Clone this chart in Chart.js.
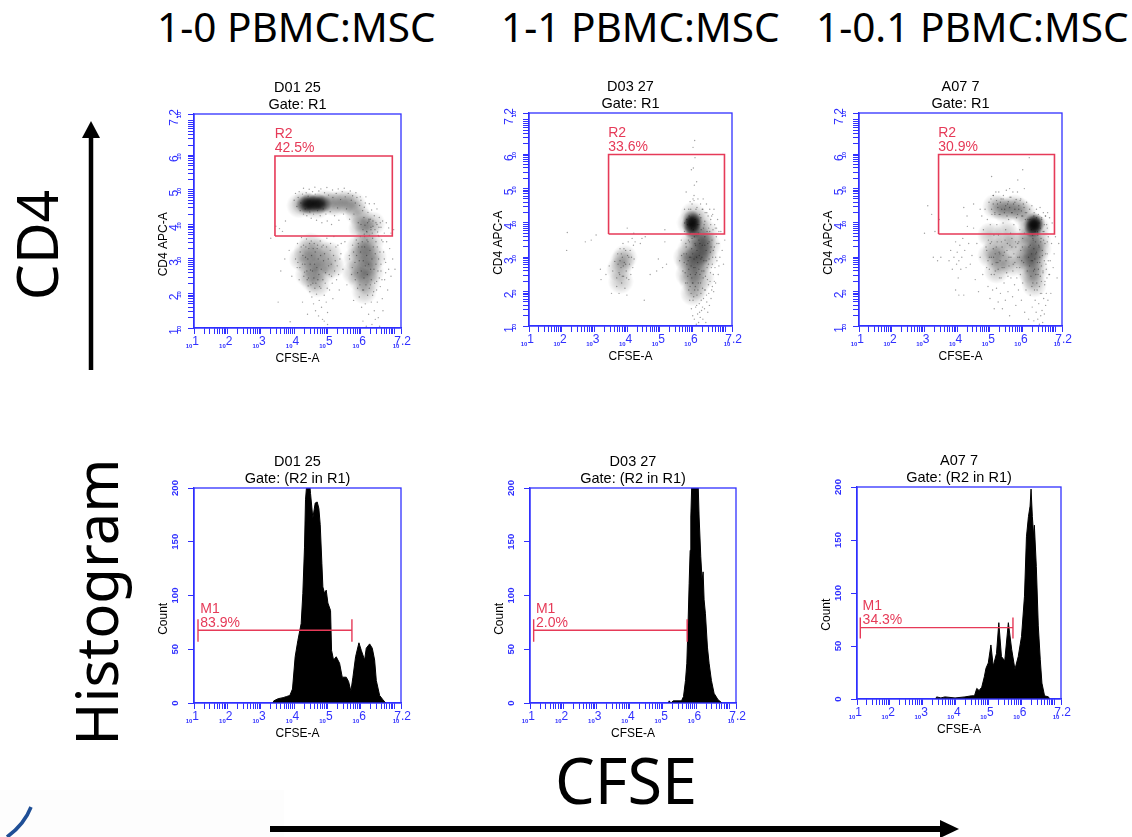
<!DOCTYPE html>
<html><head><meta charset="utf-8">
<script src="https://cdn.jsdelivr.net/npm/chart.js@4"></script>
<style>
html,body{margin:0;padding:0;background:#fff;width:1132px;height:837px;overflow:hidden}
canvas{position:absolute}
.big{position:absolute;font-family:"Noto Sans",sans-serif;color:#000;white-space:nowrap;line-height:1}
.rot{transform:translate(-50%,-50%) rotate(-90deg)}
svg{position:absolute;left:0;top:0}
</style></head><body>
<svg width="1132" height="837">
<rect x="0" y="790" width="284" height="47" fill="#fdfdfd"/>
<path d="M31 807 C26 820 18 829 7 837" stroke="#1f4f96" stroke-width="3.5" fill="none"/>
<line x1="91" y1="370" x2="91" y2="136" stroke="#000" stroke-width="4.5"/>
<polygon points="91,121 82,138 100,138" fill="#000"/>
<line x1="270" y1="829" x2="942" y2="829" stroke="#000" stroke-width="6"/>
<polygon points="959,829 940,820 940,838" fill="#000"/>
</svg>
<div class="big" style="left:157px;top:7px;font-size:40.5px">1-0 PBMC:MSC</div>
<div class="big" style="left:501px;top:7px;font-size:40.5px">1-1 PBMC:MSC</div>
<div class="big" style="left:816px;top:7px;font-size:40.5px">1-0.1 PBMC:MSC</div>
<div class="big" style="left:555px;top:748px;font-size:63px">CFSE</div>
<div class="big rot" style="left:36px;top:245px;font-size:57px">CD4</div>
<div class="big rot" style="left:96px;top:602px;font-size:58px">Histogram</div>
<script>
// ---- values ----
const titlesTop = [['D01 25','Gate: R1'],['D03 27','Gate: R1'],['A07 7','Gate: R1']];
const titlesBottom = [['D01 25','Gate: (R2 in R1)'],['D03 27','Gate: (R2 in R1)'],['A07 7','Gate: (R2 in R1)']];
const gateNames = ['R2','R2','R2'];
const gatePercents = ['42.5%','33.6%','30.9%'];
const markerNames = ['M1','M1','M1'];
const markerPercents = ['83.9%','2.0%','34.3%'];
const decadeLabels = [1,2,3,4,5,6,7.2];
const countTicks = [0,50,100,150,200];
// gates: log10 x from/to, log10 y from/to
const gate1 = [3.425,6.94,3.666,5.985];
const gate2 = [3.43,6.97,3.68,5.99];
const gate3 = [3.43,6.97,3.68,5.99];
// markers: log10 x from/to, count level, cap low/high
const marker1 = [1.12,5.73,67.7,57,78];
const marker2 = [1.11,5.73,67.7,57,78];
const marker3 = [1.10,5.74,67.3,57,77];
// histogram outlines: log10 CFSE, count
const hist1 = [3.36,0,3.39,2,3.52,4,3.67,5,3.77,6,3.87,7,3.95,13,4.03,43,4.11,58,4.21,74,4.26,102,4.31,145,4.34,189,4.38,205,4.46,205,4.49,195,4.56,172,4.63,186,4.69,187,4.74,181,4.78,166,4.83,130,4.86,108,4.91,102,4.96,105,5.01,93,5.09,86,5.12,49,5.18,40,5.26,43,5.36,37,5.44,24,5.56,24,5.63,20,5.70,11,5.76,24,5.84,43,5.94,56,6.01,49,6.11,40,6.16,51,6.26,55,6.34,51,6.41,40,6.46,21,6.56,7,6.66,3,6.74,0];
const hist2 = [5.16,0,5.19,2,5.24,0,5.31,2,5.56,2,5.62,6,5.68,21,5.72,37,5.76,77,5.79,111,5.82,142,5.84,173,5.87,205,6.06,205,6.09,173,6.14,136,6.18,114,6.21,122,6.24,96,6.28,83,6.34,52,6.39,37,6.46,21,6.54,9,6.66,3,6.78,0];
const hist3 = [3.39,0,3.42,2,3.55,1,3.67,2,3.98,1,4.28,2,4.48,3,4.57,3,4.64,10,4.71,8,4.79,11,4.87,21,4.92,29,4.99,34,5.07,51,5.14,31,5.24,43,5.31,72,5.39,40,5.49,36,5.6,72,5.70,47,5.80,28,5.90,40,6.0,59,6.09,97,6.15,153,6.21,172,6.26,182,6.29,198,6.33,172,6.37,153,6.39,164,6.45,125,6.51,69,6.57,37,6.62,15,6.70,3,6.82,2,6.85,0];
// scatter: log10 x * 100, log10 y * 100, as flat pairs. core = darkest, haze = mid density, dust = single events
const core1 = [432,458,445,466,445,454,458,460,470,466,472,454,486,460];
const haze1 = [415,455,430,462,445,455,470,452,490,465,510,462,525,460,545,465,560,462,578,458,422,300,435,320,445,285,450,340,460,300,465,265,475,325,480,290,490,265,455,240,505,315,470,225,515,280,440,255,585,300,595,335,600,275,606,315,612,345,615,260,622,310,625,285,630,345,598,240,620,232,640,305,610,205,580,260,632,262,600,390,618,388,635,402,605,412,588,435];
const dust1 = [400,470,408,452,412,478,418,440,420,462,425,488,428,430,433,445,436,492,438,425,442,482,447,436,451,418,455,495,458,430,463,488,467,412,470,440,474,497,478,425,483,405,487,445,491,492,495,430,499,410,503,485,508,437,512,400,516,478,521,425,526,490,530,448,534,412,539,472,544,495,548,430,553,480,557,445,562,490,566,415,571,470,575,483,579,430,583,462,588,478,592,405,596,455,600,470,605,440,609,420,613,462,617,380,621,435,625,460,628,415,632,442,636,395,640,425,645,405,650,378,655,420,660,392,665,410,670,375,676,405,683,390,690,375,698,385,374,410,365,380,356,388,345,395,330,360,410,345,418,320,422,362,425,285,428,340,431,262,434,305,437,358,439,240,442,222,444,330,447,205,449,268,451,352,453,190,456,230,458,170,460,345,462,215,464,150,467,198,469,330,471,240,473,135,475,180,478,352,480,215,482,160,485,125,487,340,490,195,493,230,496,175,498,360,500,145,503,280,506,210,509,345,512,250,516,185,519,365,523,295,527,240,531,340,535,210,540,315,546,270,552,350,558,225,565,310,572,255,578,180,575,340,582,290,586,355,590,215,593,335,595,190,598,365,602,160,604,350,606,120,608,210,611,365,613,170,616,105,618,355,620,195,623,140,625,368,628,225,631,175,633,110,635,360,638,205,640,150,643,125,645,350,647,235,649,175,652,130,654,365,656,105,658,220,660,265,662,355,664,185,666,150,668,320,671,240,674,290,677,350,680,210,683,270,686,330,690,250,695,300,702,270,393,250,385,325,372,300,360,265,352,175,409,275,415,240,490,120,500,110,388,118,425,175,440,140,
404,300,411,290,417,275,421,335,426,310,429,250,432,285,435,335,438,265,441,300,443,245,446,345,448,285,450,225,452,310,455,265,457,330,459,245,461,285,463,320,465,230,468,275,470,340,472,300,474,255,476,220,479,310,481,270,483,335,486,240,488,295,491,315,494,260,497,335,499,215,502,300,505,255,508,325,511,285,514,230,518,310,521,265,525,335,529,280,533,255,537,300,541,345,404,490,415,495,428,505,445,502,462,508,480,503,498,507,515,500,532,503,550,505,568,497,585,492,598,480,610,450,615,480,624,415,630,385,640,460,648,445,566,300,574,275,578,320,583,240,587,310,590,260,592,345,595,295,597,225,599,320,601,265,603,335,605,210,607,295,609,245,611,335,613,280,615,225,617,310,619,255,621,350,623,285,625,215,627,325,629,270,631,240,633,300,635,195,637,335,639,270,641,230,643,315,645,285,647,210,649,335,651,265,653,300,655,245,657,320,660,285,663,240,666,350,670,300,674,260,
600,400,606,385,612,398,618,378,624,410,630,392,636,410,642,385,648,400,654,392,610,372,620,405,634,375,652,368,658,405];
const core2 = [592,395,597,412,598,395,599,378,604,402];
const haze2 = [590,400,600,425,610,390,620,405,630,355,625,330,632,318,635,342,620,310,610,300,600,290,615,270,605,255,625,285,640,300,590,320,585,285,600,345,615,360,640,372,595,235,610,212,600,195,585,250,628,240,578,300,648,335,385,288,375,265,392,300,380,230];
const dust2 = [560,290,565,350,570,260,573,310,575,375,578,225,580,330,582,280,584,395,585,245,587,350,588,205,589,420,590,300,591,175,592,370,593,250,594,440,595,195,596,150,597,325,598,455,599,225,600,130,601,175,602,380,603,270,604,465,605,120,606,205,607,340,608,250,609,155,610,440,611,105,612,300,613,190,614,395,615,135,616,470,617,225,618,110,619,350,620,165,621,425,622,250,623,125,624,455,625,195,626,380,627,145,628,300,629,440,630,210,631,120,632,470,633,180,634,260,635,395,636,150,637,335,638,430,639,205,640,110,641,290,642,455,643,170,644,375,645,235,646,140,647,420,648,280,649,195,650,345,651,160,652,440,653,230,654,315,655,395,656,180,657,270,658,420,659,350,660,215,661,300,662,380,663,250,664,200,665,440,666,330,668,270,669,385,670,225,672,360,674,290,676,410,678,250,680,340,683,300,686,375,690,320,694,280,698,350,605,510,604,480,602,560,607,590,612,520,606,640,596,555,580,490,575,440,601,620,566,305,356,260,362,288,368,240,371,310,375,255,378,325,381,270,383,225,385,300,387,340,389,245,391,285,393,210,395,320,397,260,399,190,401,305,403,345,405,235,407,280,409,320,411,250,413,300,415,355,417,270,419,335,421,295,424,345,375,195,368,215,352,195,345,275,335,250,320,235,305,365,290,350,272,345,217,372,215,320,318,265,400,385,420,370,445,355,455,360,440,340,470,250,490,260,508,270,515,380,520,280,515,345,452,175,495,295,
574,285,577,255,579,340,581,310,583,225,586,290,588,265,590,345,592,215,594,300,595,275,597,240,598,355,600,310,601,225,603,185,604,295,605,360,607,270,608,215,609,335,611,255,612,160,613,320,615,285,616,205,617,370,619,265,620,305,621,140,622,340,624,225,625,295,626,175,628,260,629,335,630,155,632,240,633,385,634,290,636,205,637,360,639,245,641,320,642,190,644,270,646,340,648,220,650,295,652,375,654,255,656,330,658,205,660,280,663,320,666,230,670,300,674,340,680,275,575,400,582,410,588,440,592,462,596,385,601,470,607,410,613,445,619,395,625,415,631,440,637,405,643,430,649,385,655,410,661,425,667,395,673,385,680,375,
385,245,388,275,378,290,395,280,382,310,372,280,405,300,398,240,390,325,377,250];
const core3 = [628,395,634,405,638,390,631,382,642,400];
const haze3 = [622,395,645,385,630,340,635,318,625,305,640,300,630,280,620,260,640,265,630,240,615,350,648,350,620,372,650,325,635,220,612,300,515,448,530,445,545,436,560,442,575,447,590,438,605,425,500,305,515,322,525,295,540,285,545,330,520,260,580,340,600,300,570,280,550,370,500,365];
const dust3 = [480,380,485,440,488,330,490,270,492,410,494,215,495,350,497,460,498,300,500,180,501,395,503,470,504,250,505,345,506,425,508,205,510,480,511,300,512,365,513,150,515,425,516,260,518,490,519,330,520,210,521,395,523,455,524,285,525,170,526,365,527,490,529,240,530,310,531,425,532,195,534,470,535,345,537,270,538,150,540,400,541,480,543,225,544,315,545,440,547,175,548,380,550,495,551,255,553,340,554,455,555,200,557,410,558,300,560,130,561,475,563,370,564,240,566,430,567,330,569,185,570,490,571,280,573,395,575,220,576,460,578,345,579,160,581,415,582,270,584,490,585,340,587,205,588,440,590,300,591,380,593,250,594,470,596,175,597,420,599,330,600,225,602,455,603,285,605,370,606,140,608,430,610,205,612,460,614,260,616,410,618,120,619,330,621,440,623,190,624,100,626,290,628,450,629,155,631,225,632,350,634,115,635,430,636,265,638,175,639,90,640,310,641,140,642,440,644,205,645,375,646,120,647,250,648,425,649,165,650,330,651,105,652,285,653,445,654,195,655,130,656,355,657,230,658,415,659,145,660,305,661,110,662,260,663,430,664,180,665,375,666,135,667,220,668,340,669,420,670,160,671,280,672,195,673,395,674,240,675,310,676,430,677,175,678,360,680,250,682,415,684,290,686,195,688,340,690,400,693,270,696,310,700,360,705,240,710,340,375,290,380,320,385,265,390,300,395,345,398,280,400,315,403,240,405,290,408,335,411,265,414,300,417,355,420,190,423,320,427,270,431,390,435,340,440,280,445,305,450,385,455,235,460,340,465,200,470,300,475,420,478,250,350,300,345,410,340,290,332,375,327,300,322,425,310,450,300,370,395,205,405,190,420,445,430,420,450,455,470,440,505,535,510,480,560,500,585,525,605,500,620,590,600,555,
490,320,494,290,498,265,501,340,504,300,507,280,510,325,513,250,516,310,519,285,522,345,525,265,528,315,531,290,534,240,537,330,540,305,543,270,546,350,549,290,552,320,555,245,558,275,561,335,564,300,567,355,570,260,573,310,576,285,579,330,582,240,585,300,588,345,591,270,594,320,597,290,600,355,
505,440,510,455,515,430,520,465,524,445,528,425,532,460,536,440,540,470,544,430,548,450,552,420,556,462,560,445,564,475,568,430,572,455,576,440,580,468,584,425,588,450,592,465,596,435,600,420,604,445,608,410,612,430,
618,300,621,275,623,335,625,245,627,310,628,215,630,290,631,355,633,260,634,325,636,205,637,295,639,345,640,250,642,315,643,225,645,285,646,365,648,265,649,335,651,215,652,300,654,245,655,345,657,275,658,195,660,320,662,255,664,350,666,290,668,230,670,310,672,265,675,345,678,290,682,250,
622,410,626,380,630,365,634,420,638,375,642,415,646,370,650,400,654,385,658,410,662,375,666,395,670,420,675,385];
// ---- page geometry ----
const topBoxes = [[194,114,207,214],[529,113,203,213],[859,113,203,213]];
const bottomBoxes = [[194,488,207,215],[530,488,206,215],[857,487,204,212]];
const LEFT=45, RIGHT=25, TOP=34, BELOW=38;
const BLUE='#3030ff', RED='#e63a58', TINY='bold 6px "Liberation Sans"';

function pairs(flat,scale){const out=[];for(let i=0;i<flat.length;i+=2)out.push({x:Math.pow(10,flat[i]/scale),y:Math.pow(10,flat[i+1]/scale)});return out;}
function histPts(flat){const out=[];for(let i=0;i<flat.length;i+=2)out.push({x:Math.pow(10,flat[i]),y:flat[i+1]});return out;}
function sprite(size,alpha){const c=document.createElement('canvas');c.width=c.height=size;const g=c.getContext('2d');const r=size/2;
  const gr=g.createRadialGradient(r,r,0,r,r,r);gr.addColorStop(0,'rgba(0,0,0,'+alpha+')');gr.addColorStop(.55,'rgba(0,0,0,'+alpha*.55+')');gr.addColorStop(1,'rgba(0,0,0,0)');
  g.fillStyle=gr;g.fillRect(0,0,size,size);return c;}
const hazeSprite=sprite(26,.23), coreSprite=sprite(18,.58);
function logTicks(){const t=[];for(let d=1;d<7;d++)for(let k=1;k<10;k++)t.push({value:k*Math.pow(10,d)});t.push({value:1e7});t.push({value:Math.pow(10,7.2)});return t;}
function decadeOf(v){const e=Math.log10(v);const hit=decadeLabels.find(d=>Math.abs(d-e)<1e-6);return hit===undefined?'':String(hit);}

const framePlugin={id:'frame',afterDatasetsDraw(ch){const a=ch.chartArea,c=ch.ctx;c.save();c.strokeStyle=BLUE;c.lineWidth=1.3;c.strokeRect(a.left,a.top,a.width,a.height);c.restore();}};
const tensPlugin={id:'tens',afterDraw(ch,_,o){const c=ch.ctx;c.save();c.fillStyle=BLUE;c.font=TINY;c.textAlign='center';c.textBaseline='middle';
  ch.scales.x.ticks.forEach(t=>{if(decadeOf(t.value)){c.fillText('10',ch.scales.x.getPixelForValue(t.value)-5,ch.chartArea.bottom+18.5);}});
  if(o.logY)ch.scales.y.ticks.forEach(t=>{if(decadeOf(t.value)){c.save();c.translate(ch.chartArea.left-15,ch.scales.y.getPixelForValue(t.value)+1);c.rotate(-Math.PI/2);c.fillText('10',0,0);c.restore();}});
  c.restore();}};
const notePlugin={id:'note',afterDatasetsDraw(ch,_,o){const c=ch.ctx;c.save();c.fillStyle=RED;c.font='14px "Liberation Sans"';c.textAlign='left';c.textBaseline='alphabetic';
  const px=ch.scales.x.getPixelForValue(o.x)+o.dx,py=ch.scales.y.getPixelForValue(o.y);
  c.fillText(o.lines[1],px,py-3.5);c.fillText(o.lines[0],px,py-17.5);c.restore();}};
Chart.register(framePlugin,tensPlugin,notePlugin);

function xScale(){return {type:'logarithmic',min:10,max:Math.pow(10,7.2),
  afterBuildTicks(s){s.ticks=logTicks();},afterFit(s){s.height=BELOW;},
  grid:{drawOnChartArea:false,tickLength:6,color:BLUE,tickColor:BLUE,tickWidth:1},border:{color:BLUE,width:1.3},
  ticks:{autoSkip:false,maxRotation:0,minRotation:0,padding:0,color:BLUE,font:{family:'Liberation Sans',size:12},callback:v=>{const t=decadeOf(v);return t?' '+t:'';}},
  title:{display:true,text:'CFSE-A',color:'#000',font:{family:'Liberation Sans',size:12,lineHeight:1.2},padding:0}};}
function base(box){const cv=document.createElement('canvas');cv.style.left=(box[0]-LEFT)+'px';cv.style.top=(box[1]-TOP)+'px';
  cv.width=box[2]+LEFT+RIGHT;cv.height=box[3]+TOP+BELOW;cv.style.width=cv.width+'px';cv.style.height=cv.height+'px';document.body.appendChild(cv);return cv;}
function common(title){return {responsive:false,animation:false,devicePixelRatio:1,layout:{autoPadding:false,padding:{right:RIGHT}},
  plugins:{legend:{display:false},tooltip:{enabled:false},
   title:{display:true,fullSize:false,text:title,color:'#000',font:{family:'Liberation Sans',size:14.5,weight:'normal',lineHeight:1.16},padding:{top:0,bottom:.36}}}};}

function scatterPanel(box,title,gate,core,haze,dust,name,pct){
  const rect=[[gate[0],gate[2]],[gate[1],gate[2]],[gate[1],gate[3]],[gate[0],gate[3]],[gate[0],gate[2]]].map(p=>({x:Math.pow(10,p[0]),y:Math.pow(10,p[1])}));
  const opt=common(title);
  opt.scales={x:xScale(),y:{type:'logarithmic',min:10,max:Math.pow(10,7.2),
    afterBuildTicks(s){s.ticks=logTicks();},afterFit(s){s.width=LEFT;},
    grid:{drawOnChartArea:false,tickLength:6,color:BLUE,tickColor:BLUE,tickWidth:1},border:{color:BLUE,width:1.3},
    ticks:{autoSkip:false,minRotation:90,maxRotation:90,crossAlign:'center',padding:1.5,color:BLUE,font:{family:'Liberation Sans',size:12},callback:v=>{const t=decadeOf(v);return t?t+'  ':'';}},
    title:{display:true,text:'CD4 APC-A'+' '.repeat(14),color:'#000',font:{family:'Liberation Sans',size:12,lineHeight:1.2},padding:{top:7,bottom:0}}}};
  opt.plugins.tens={logY:true};
  opt.plugins.note={x:Math.pow(10,gate[0]),y:Math.pow(10,gate[3]),dx:-.3,lines:[name,pct]};
  new Chart(base(box),{type:'scatter',data:{datasets:[
    {label:'R2 gate',data:rect,showLine:true,fill:false,borderColor:RED,borderWidth:1.6,pointRadius:0,order:0},
    {label:'events',data:pairs(dust,100),pointRadius:.7,pointBorderWidth:0,backgroundColor:'rgba(0,0,0,.38)',order:1},
    {label:'dense',data:pairs(core,100),pointStyle:coreSprite,pointRadius:5,order:2},
    {label:'cloud',data:pairs(haze,100),pointStyle:hazeSprite,pointRadius:5,order:3}
  ]},options:opt});
}
function histPanel(box,title,flat,marker,name,pct,yShift){
  const m=[[marker[0],marker[3]],[marker[0],marker[4]],[marker[0],marker[2]],[marker[1],marker[2]],[marker[1],marker[4]],[marker[1],marker[3]]].map(p=>({x:Math.pow(10,p[0]),y:p[1]}));
  const opt=common(title);
  opt.scales={x:xScale(),y:{type:'linear',min:0,max:200,
    afterBuildTicks(s){s.ticks=countTicks.map(v=>({value:v}));},afterFit(s){s.width=LEFT;},
    grid:{drawOnChartArea:false,tickLength:6,color:BLUE,tickColor:BLUE,tickWidth:1},border:{color:BLUE,width:1.3},
    ticks:{autoSkip:false,minRotation:90,maxRotation:90,crossAlign:'center',padding:4.5,color:BLUE,font:{family:'Liberation Sans',size:9.5,weight:'bold'}},
    title:{display:true,text:'Count'+' '.repeat(yShift),color:'#000',font:{family:'Liberation Sans',size:12,lineHeight:1.2},padding:{top:7,bottom:0}}}};
  opt.plugins.tens={logY:false};
  opt.plugins.note={x:Math.pow(10,marker[0]),y:marker[2],dx:2.3,lines:[name,pct]};
  new Chart(base(box),{type:'scatter',data:{datasets:[
    {label:'M1 marker',data:m,showLine:true,fill:false,borderColor:RED,borderWidth:1.4,pointRadius:0,order:0},
    {label:'CFSE histogram',data:histPts(flat),showLine:true,fill:'origin',backgroundColor:'#000',borderColor:'#000',borderWidth:1,pointRadius:0,tension:0,order:1}
  ]},options:opt});
}
scatterPanel(topBoxes[0],titlesTop[0],gate1,core1,haze1,dust1,gateNames[0],gatePercents[0]);
scatterPanel(topBoxes[1],titlesTop[1],gate2,core2,haze2,dust2,gateNames[1],gatePercents[1]);
scatterPanel(topBoxes[2],titlesTop[2],gate3,core3,haze3,dust3,gateNames[2],gatePercents[2]);
histPanel(bottomBoxes[0],titlesBottom[0],hist1,marker1,markerNames[0],markerPercents[0],14);
histPanel(bottomBoxes[1],titlesBottom[1],hist2,marker2,markerNames[1],markerPercents[1],14);
histPanel(bottomBoxes[2],titlesBottom[2],hist3,marker3,markerNames[2],markerPercents[2],13);
</script>
</body></html>
